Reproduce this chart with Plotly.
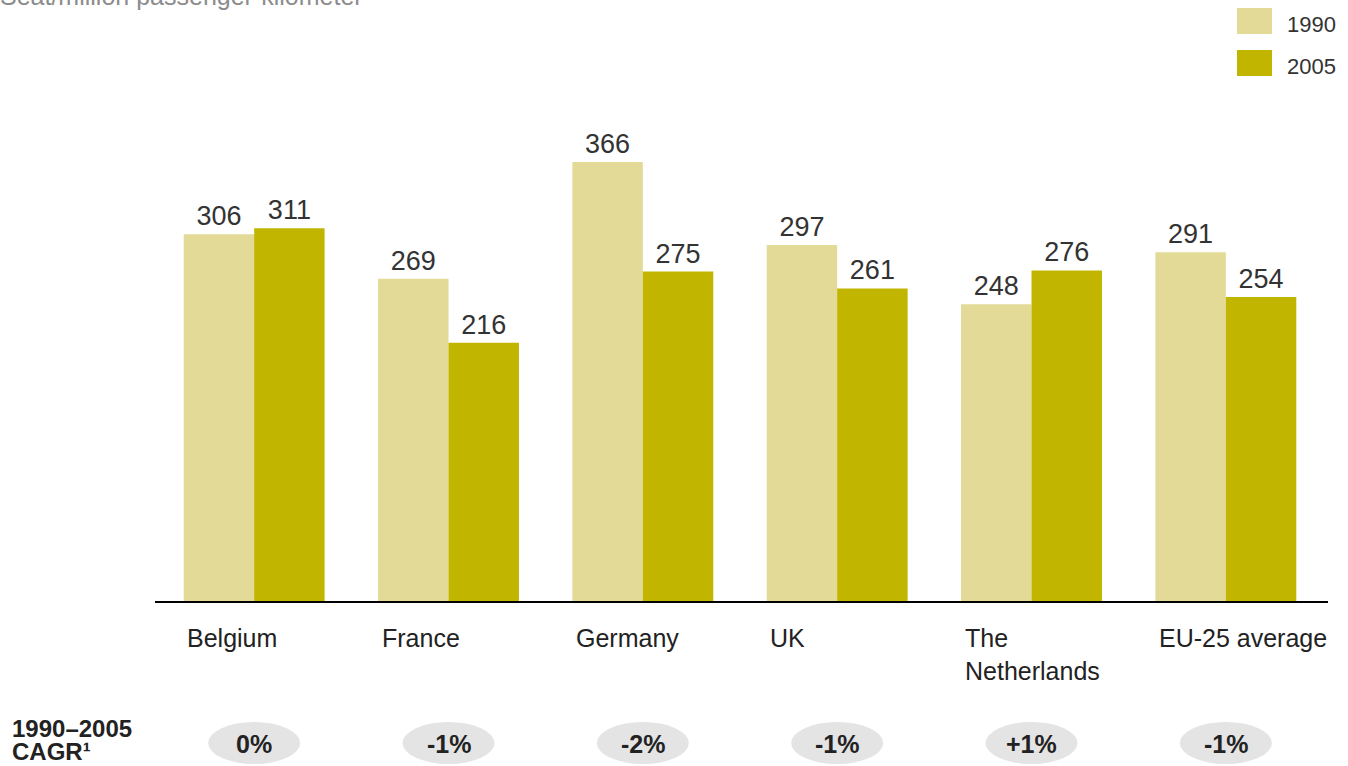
import plotly.graph_objects as go

categories = ["Belgium", "France", "Germany", "UK", "The<br>Netherlands", "EU-25 average"]
values_1990 = [306, 269, 366, 297, 248, 291]
values_2005 = [311, 216, 275, 261, 276, 254]
cagr = ["0%", "-1%", "-2%", "-1%", "+1%", "-1%"]
series_names = ["1990", "2005"]
title_text = "Seat/million passenger-kilometer"

C1990 = "#e3da98"
C2005 = "#c1b500"
FONT = "Liberation Sans, Arial, sans-serif"

W, H = 1348, 766
ML, MR, MT, MB = 157, 25, 100, 163
plot_h = H - MT - MB
ymax = 417.4

x_idx = list(range(len(categories)))

fig = go.Figure()
fig.add_trace(go.Bar(x=x_idx, y=values_1990, name=series_names[0], marker_color=C1990,
                     marker_line_width=0, texttemplate="%{y}", textposition="outside",
                     textfont=dict(size=27, color="#333333", family=FONT), cliponaxis=False))
fig.add_trace(go.Bar(x=x_idx, y=values_2005, name=series_names[1], marker_color=C2005,
                     marker_line_width=0, texttemplate="%{y}", textposition="outside",
                     textfont=dict(size=27, color="#333333", family=FONT), cliponaxis=False))

annotations = []
shapes = []

def py(pixel_y):
    return (H - MB - pixel_y) / plot_h

pw = W - ML - MR
def px(pixel_x):
    return (pixel_x - ML) / pw

# category labels (left aligned at group left edge)
for i, c in enumerate(categories):
    annotations.append(dict(x=i - 0.355, y=py(622), xref="x", yref="paper", text=c,
                            showarrow=False, xanchor="left", yanchor="top", align="left",
                            font=dict(size=25, color="#222222", family=FONT)))
    # CAGR ellipse
    shapes.append(dict(type="circle", xref="x", yref="paper", xsizemode="pixel",
                       ysizemode="pixel", xanchor=i, yanchor=py(743),
                       x0=-46, x1=46, y0=-21, y1=21,
                       fillcolor="#e4e4e4", line=dict(width=0), layer="below"))
    annotations.append(dict(x=i, y=py(744), xref="x", yref="paper", text="<b>%s</b>" % cagr[i],
                            showarrow=False, xanchor="center", yanchor="middle",
                            font=dict(size=25, color="#222222", family=FONT)))

annotations.append(dict(x=px(10), y=py(729), xref="paper", yref="paper",
                        text="<b>1990–2005</b>", showarrow=False,
                        xanchor="left", yanchor="middle", align="left",
                        font=dict(size=24, color="#222222", family=FONT)))
annotations.append(dict(x=px(10), y=py(751), xref="paper", yref="paper",
                        text="<b>CAGR¹</b>", showarrow=False,
                        xanchor="left", yanchor="middle", align="left",
                        font=dict(size=24, color="#222222", family=FONT)))

# title (clipped at top)
annotations.append(dict(x=px(-2), y=py(12), xref="paper", yref="paper",
                        text=title_text, showarrow=False, xanchor="left", yanchor="bottom",
                        font=dict(size=25, color="#8c8c8c", family=FONT)))

# legend
for name, col, top in [(series_names[0], C1990, 8), (series_names[1], C2005, 50)]:
    shapes.append(dict(type="rect", xref="paper", yref="paper",
                       x0=px(1237), x1=px(1272), y0=py(top + 26), y1=py(top),
                       fillcolor=col, line=dict(width=0)))
    annotations.append(dict(x=px(1285), y=py(top + 16), xref="paper", yref="paper",
                            text=name, showarrow=False, xanchor="left", yanchor="middle",
                            font=dict(size=22, color="#333333", family=FONT)))

# baseline
shapes.append(dict(type="line", xref="paper", yref="y", x0=px(155), x1=px(1328), y0=0, y1=0,
                   line=dict(color="#000000", width=4)))

fig.update_layout(
    width=W, height=H, barmode="group", bargap=0.275, bargroupgap=0,
    margin=dict(l=ML, r=MR, t=MT, b=MB),
    paper_bgcolor="white", plot_bgcolor="white", showlegend=False,
    xaxis=dict(range=[-0.5, len(categories) - 0.5], showticklabels=False, showgrid=False,
               zeroline=False, showline=False, ticks=""),
    yaxis=dict(range=[0, ymax], visible=False, showgrid=False, zeroline=False),
    annotations=annotations, shapes=shapes,
    font=dict(family=FONT),
)

fig.write_html("out.html")
